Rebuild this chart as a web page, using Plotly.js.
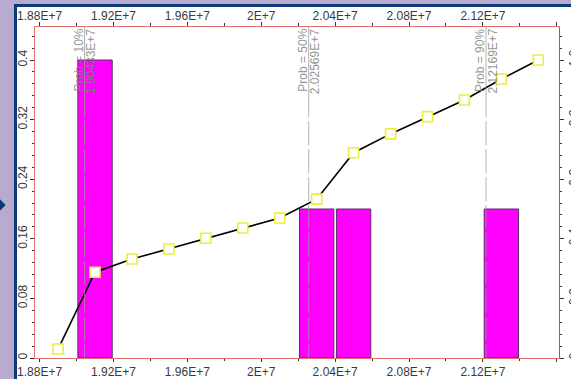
<!DOCTYPE html>
<html>
<head>
<meta charset="utf-8">
<script src="https://cdn.plot.ly/plotly-3.0.1.min.js"></script>
<style>
  html, body { margin: 0; padding: 0; width: 571px; height: 379px; overflow: hidden; background: #b9aacf; }
  #edge  { position: absolute; left: 14px; top: 4px; width: 557px; height: 375px; background: #0c3a78; }
  #pin   { position: absolute; left: -4px; top: 201px; width: 8px; height: 8px; background: #0c3a78; transform: rotate(45deg); }
  #panel { position: absolute; left: 17px; top: 7px; width: 554px; height: 372px; background: #ffffff; }
  #chart { position: absolute; left: 0; top: 0; width: 571px; height: 379px; }
</style>
</head>
<body>
<div id="edge"></div>
<div id="pin"></div>
<div id="panel"></div>
<div id="chart"></div>
<script>
// Histogram bins (centre of each bin) and their relative frequency
const binCenters = [1.91e7, 2.03e7, 2.05e7, 2.13e7];
const binHeights = [0.4, 0.2, 0.2, 0.2];

// Cumulative probability curve
const curveX = [1.89e7, 1.91e7, 1.93e7, 1.95e7, 1.97e7, 1.99e7, 2.01e7,
                2.03e7, 2.05e7, 2.07e7, 2.09e7, 2.11e7, 2.13e7, 2.15e7];
const curveY = [0.030, 0.288, 0.332, 0.366, 0.402, 0.436, 0.470,
                0.533, 0.689, 0.752, 0.810, 0.866, 0.936, 1.000];

// Percentile markers
const probNames  = ["Prob = 10%", "Prob = 50%", "Prob = 90%"];
const probValues = [1.90433e7, 2.02569e7, 2.12169e7];
const probLabels = ["1.90433E+7", "2.02569E+7", "2.12169E+7"];

// Tick labels
const xTickVals = [1.88e7, 1.92e7, 1.96e7, 2.0e7, 2.04e7, 2.08e7, 2.12e7, 2.16e7];
const xTickText = ["1.88E+7", "1.92E+7", "1.96E+7", "2E+7", "2.04E+7", "2.08E+7", "2.12E+7", "2.16E+7"];
const yTickVals = [0, 0.08, 0.16, 0.24, 0.32, 0.4];
const yTickText = ["0", "0.08", "0.16", "0.24", "0.32", "0.4"];
const cumTickVals = [0, 0.2, 0.4, 0.6, 0.8, 1.0];
const cumTickText = ["0", "0.2", "0.4", "0.6", "0.8", "1.0"];

const xRange = [1.8775e7, 2.1612e7];
const yMax = 0.4443;
const cumMax = yMax * 2.5;

const axisRed = '#e07070';
const tickFont = { family: 'Liberation Sans, Arial, sans-serif', size: 12, color: '#3a3a3a' };

const bars = {
  type: 'bar',
  x: binCenters,
  y: binHeights,
  width: binCenters.map(() => 1.86e5),
  marker: { color: '#ff00ff', line: { color: '#5a2a6a', width: 1 } },
  xaxis: 'x', yaxis: 'y',
  hoverinfo: 'skip'
};

const curve = {
  type: 'scatter',
  mode: 'lines+markers',
  x: curveX,
  y: curveY,
  line: { color: '#000000', width: 1.6 },
  marker: { symbol: 'square', size: 10, color: '#ffffff', line: { color: '#eded3c', width: 1.6 } },
  xaxis: 'x2', yaxis: 'y2',
  hoverinfo: 'skip'
};

// Empty trace that carries the tick-mark-only axes on the top and left edges
const tickFrame = { type: 'scatter', mode: 'markers', x: [], y: [], xaxis: 'x3', yaxis: 'y3', hoverinfo: 'skip' };

// Dashed percentile lines: solid through the label area, then long dashes
const dashPattern = '90px,4px' + ',24px,4px'.repeat(10);
const shapes = probValues.map(v => ({
  type: 'line', xref: 'x', yref: 'paper',
  x0: v, x1: v, y0: 1, y1: 0,
  layer: 'above', opacity: 0.75,
  line: { color: '#9a9a9a', width: 1, dash: dashPattern }
}));

const labelFont = { family: 'Liberation Sans, Arial, sans-serif', size: 12, color: 'rgba(128,128,128,0.85)' };
const annotations = [];
probValues.forEach((v, i) => {
  annotations.push({
    x: v, xref: 'x', y: 1, yref: 'paper', xanchor: 'center', yanchor: 'top',
    text: probNames[i], textangle: -90, showarrow: false, font: labelFont, xshift: -6.5
  });
  annotations.push({
    x: v, xref: 'x', y: 1, yref: 'paper', xanchor: 'center', yanchor: 'top',
    text: probLabels[i], textangle: -90, showarrow: false, font: labelFont, xshift: 6
  });
});

const common = { showgrid: false, zeroline: false, showline: true, linecolor: axisRed, linewidth: 1, tickcolor: '#333', tickfont: tickFont };

const layout = {
  width: 571, height: 379,
  margin: { l: 35, r: 12, t: 27, b: 21, pad: 0 },
  paper_bgcolor: 'rgba(0,0,0,0)',
  plot_bgcolor: '#ffffff',
  showlegend: false,
  barmode: 'overlay',
  xaxis: Object.assign({}, common, {
    range: xRange, tickmode: 'array', tickvals: xTickVals, ticktext: xTickText,
    ticks: 'outside', ticklen: 3,
    minor: { dtick: 2e5, tick0: 1.88e7, ticks: 'outside', ticklen: 2, tickcolor: '#333', showgrid: false }
  }),
  // top labels
  xaxis2: Object.assign({}, common, {
    range: xRange, overlaying: 'x', side: 'top', tickmode: 'array', tickvals: xTickVals, ticktext: xTickText,
    ticks: 'outside', ticklen: 1
  }),
  // top tick marks
  xaxis3: Object.assign({}, common, {
    range: xRange, overlaying: 'x', side: 'top', tickmode: 'array', tickvals: xTickVals,
    showticklabels: false, ticks: 'outside', ticklen: 4,
    minor: { dtick: 2e5, tick0: 1.88e7, ticks: 'outside', ticklen: 3, tickcolor: '#333', showgrid: false }
  }),
  // left labels
  yaxis: Object.assign({}, common, {
    range: [0, yMax], tickmode: 'array', tickvals: yTickVals, ticktext: yTickText, tickangle: -90,
    ticks: 'outside', ticklen: 2
  }),
  yaxis2: Object.assign({}, common, {
    range: [0, cumMax], overlaying: 'y', side: 'right', tickmode: 'array', tickvals: cumTickVals, ticktext: cumTickText,
    tickangle: -90, ticks: 'outside', ticklen: 4, linecolor: '#e04040',
    minor: { dtick: 0.04, tick0: 0, ticks: 'outside', ticklen: 2, tickcolor: '#333', showgrid: false }
  }),
  // left tick marks
  yaxis3: Object.assign({}, common, {
    range: [0, yMax], overlaying: 'y', side: 'left', tickmode: 'array', tickvals: yTickVals,
    showticklabels: false, ticks: 'outside', ticklen: 4,
    minor: { dtick: 0.016, tick0: 0, ticks: 'outside', ticklen: 2, tickcolor: '#333', showgrid: false }
  }),
  shapes: shapes,
  annotations: annotations
};

Plotly.newPlot('chart', [bars, tickFrame, curve], layout, { displayModeBar: false, staticPlot: true });
</script>
</body>
</html>
